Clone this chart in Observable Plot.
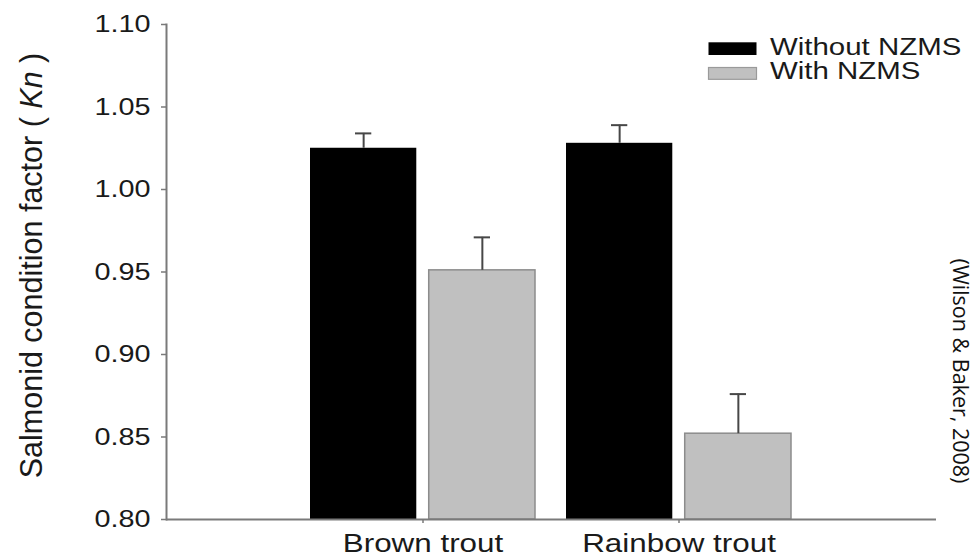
<!DOCTYPE html>
<html>
<head>
<meta charset="utf-8">
<script src="https://cdn.jsdelivr.net/npm/d3@7"></script>
<script src="https://cdn.jsdelivr.net/npm/@observablehq/plot@0.6"></script>
<style>
  html, body { margin: 0; padding: 0; background: #fff; overflow: hidden; }
  #chart { position: relative; width: 975px; height: 558px; }
</style>
</head>
<body>
<div id="chart"></div>
<script>
// ---- data ----
const species = ["Brown trout", "Rainbow trout"];
const treatments = ["Without NZMS", "With NZMS"];
const withoutMean = [1.025, 1.028];
const withoutErr = [0.009, 0.011];
const withMean = [0.951, 0.852];
const withErr = [0.020, 0.024];
const yTicks = [0.80, 0.85, 0.90, 0.95, 1.00, 1.05, 1.10];
const yDomain = [0.80, 1.10];
const yLabelText = "Salmonid condition factor ( ";
const yLabelItalic = "Kn";
const yLabelEnd = " )";
const sourceText = "(Wilson & Baker, 2008)";
const fillColors = ["#000000", "#c0c0c0"];

const rows = species.flatMap((s, i) => [
  {species: s, treatment: treatments[0], mean: withoutMean[i], err: withoutErr[i]},
  {species: s, treatment: treatments[1], mean: withMean[i], err: withErr[i]}
]);
const rowsWithout = rows.filter(d => d.treatment === treatments[0]);
const rowsWith = rows.filter(d => d.treatment === treatments[1]);

// ---- layout ----
const W = 975, H = 558, mL = 166, mR = 39, mT = 24, mB = 39;
const pI = 0.12, pO = 0.561;
const step = (W - mL - mR) / (species.length - pI + 2 * pO);
const bw = step * (1 - pI);
const barW = 107, capW = 17;
const axisColor = "#7a7a7a", errColor = "#474747", textColor = "#1a1a1a";
const font = "'Liberation Sans', Arial, Helvetica, sans-serif";

const plot = Plot.plot({
  width: W, height: H,
  marginLeft: mL, marginRight: mR, marginTop: mT, marginBottom: mB,
  style: {fontFamily: font, color: textColor, background: "#fff"},
  x: {type: "band", domain: species, paddingInner: pI, paddingOuter: pO, axis: null},
  y: {domain: yDomain, axis: null},
  marks: [
    Plot.barY(rowsWithout, {x: "species", y1: yDomain[0], y2: "mean", fill: fillColors[0], insetRight: bw - barW}),
    Plot.barY(rowsWith, {x: "species", y1: yDomain[0], y2: "mean", fill: fillColors[1], stroke: "#8c8c8c", strokeWidth: 1.5, insetLeft: bw - barW}),
    Plot.ruleX(rowsWithout, {x: "species", y1: "mean", y2: d => d.mean + d.err, dx: -(bw / 2 - barW / 2), stroke: errColor, strokeWidth: 2}),
    Plot.ruleX(rowsWith, {x: "species", y1: "mean", y2: d => d.mean + d.err, dx: (bw / 2 - barW / 2), stroke: errColor, strokeWidth: 2}),
    Plot.tickY(rowsWithout, {x: "species", y: d => d.mean + d.err, insetLeft: barW / 2 - capW / 2, insetRight: bw - barW / 2 - capW / 2, stroke: errColor, strokeWidth: 2}),
    Plot.tickY(rowsWith, {x: "species", y: d => d.mean + d.err, insetLeft: bw - barW / 2 - capW / 2, insetRight: barW / 2 - capW / 2, stroke: errColor, strokeWidth: 2}),
    Plot.ruleY([yDomain[0]], {stroke: axisColor, strokeWidth: 2}),
    Plot.frame({anchor: "left", stroke: axisColor, strokeWidth: 2}),
    Plot.axisY({ticks: yTicks, tickFormat: d3.format(".2f"), tickSize: 5, tickPadding: 11, fontSize: 24, label: null, color: textColor, stroke: axisColor, strokeWidth: 1.5}),
    Plot.axisX({tickSize: 4, tickPadding: 11, fontSize: 25, label: null, color: textColor, stroke: axisColor, strokeWidth: 1.5})
  ]
});

document.getElementById("chart").appendChild(plot);

// horizontal stretch of tick label glyphs, as in the reference image
function stretch(sel, s) {
  plot.querySelectorAll(sel).forEach(t => {
    const tr = t.getAttribute("transform") || "";
    if (/translate/.test(tr)) t.setAttribute("transform", tr + ` scale(${s},1)`);
    else {
      const x = +t.getAttribute("x") || 0, y = +t.getAttribute("y") || 0;
      t.setAttribute("transform", `translate(${x},${y}) scale(${s},1) translate(${-x},${-y})`);
    }
  });
}
stretch('g[aria-label="y-axis tick label"] text', 1.2);
stretch('g[aria-label="x-axis tick label"] text', 1.256);

const svg = d3.select(plot);

// y label with italic Kn
const yl = svg.append("text")
  .attr("transform", "translate(41.5,265.5) rotate(-90)")
  .attr("text-anchor", "middle")
  .attr("font-family", font)
  .attr("font-size", 30.5)
  .attr("fill", textColor);
yl.append("tspan").text(yLabelText);
yl.append("tspan").attr("font-style", "italic").text(yLabelItalic);
yl.append("tspan").text(yLabelEnd);

// legend
const lg = svg.append("g");
const legendRows = [
  {label: treatments[0], fill: fillColors[0], stroke: "none", y: 42.3, h: 12.7, base: 55},
  {label: treatments[1], fill: fillColors[1], stroke: "#9a9a9a", y: 67.5, h: 11.8, base: 79.3}
];
legendRows.forEach(r => {
  lg.append("rect").attr("x", 708.5).attr("y", r.y).attr("width", 48).attr("height", r.h)
    .attr("fill", r.fill).attr("stroke", r.stroke).attr("stroke-width", 1.2);
  lg.append("text").attr("transform", `translate(770,${r.base}) scale(1.28,1)`)
    .attr("text-anchor", "start")
    .attr("font-family", font).attr("font-size", 23).attr("fill", textColor).text(r.label);
});

// rotated source note at the right edge
svg.append("text")
  .attr("transform", "translate(953,371) rotate(90)")
  .attr("text-anchor", "middle")
  .attr("font-family", "'Open Sans', 'Noto Sans', sans-serif")
  .attr("font-size", 21.5)
  .attr("fill", "#111")
  .text(sourceText);
</script>
</body>
</html>
